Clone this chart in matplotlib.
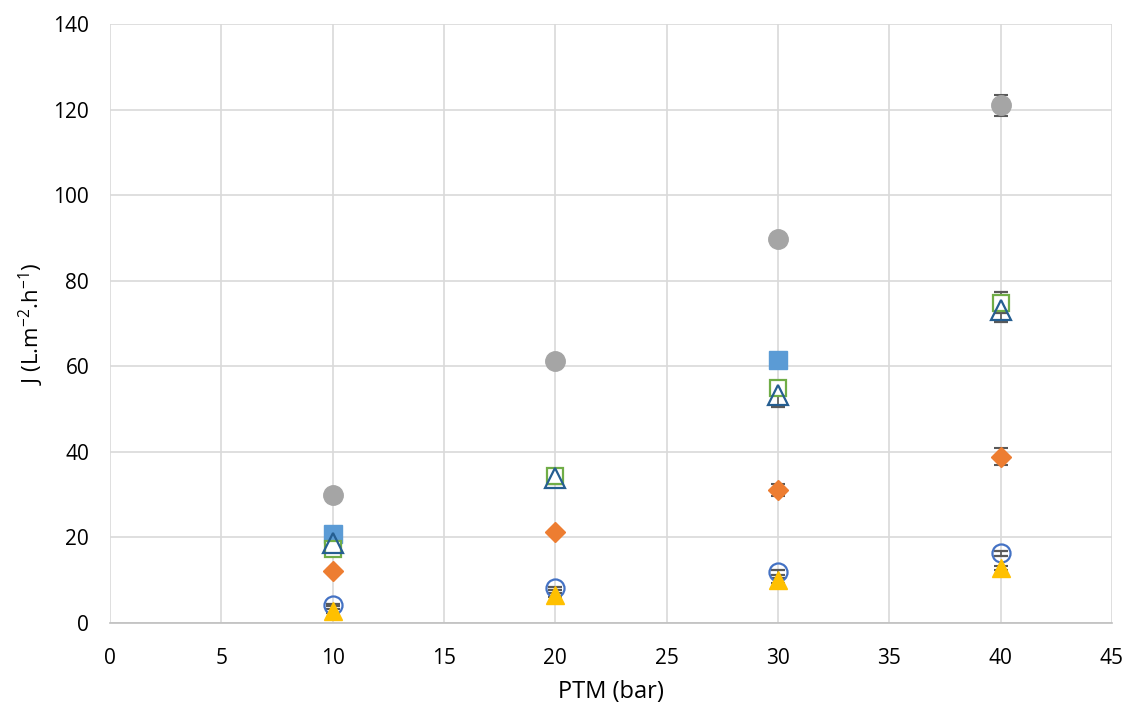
import numpy as np
import matplotlib.pyplot as plt

plt.rcParams['font.family'] = ['Open Sans', 'DejaVu Sans']
plt.rcParams['mathtext.default'] = 'regular'

ptm = [10, 20, 30, 40]

# valeurs
j_gris = [30.0, 61.2, 89.7, 121.0]
err_gris = [0.5, 0.6, 0.8, 2.4]
j_bleu_carre = [20.9, np.nan, 61.4, np.nan]
err_bleu_carre = [0.5, 0, 0.6, 0]
j_vert = [17.2, 34.3, 54.9, 74.9]
err_vert = [0.8, 1.0, 1.5, 2.5]
j_losange = [12.2, 21.3, 31.1, 38.9]
err_losange = [0.4, 0.5, 1.4, 2.0]
j_triangle = [18.8, 33.9, 53.2, 73.1]
err_triangle = [1.2, 1.5, 2.6, 2.8]
j_cercle = [4.2, 8.1, 11.9, 16.3]
err_cercle = [0.3, 0.3, 0.6, 0.6]
j_jaune = [2.8, 6.5, 10.0, 12.8]
err_jaune = [0.5, 0.5, 0.6, 0.5]

fig = plt.figure(figsize=(11.27, 7.07), dpi=100)
ax = fig.add_axes([110/1127, 1 - 623/707, 1002/1127, 599/707])

ecol = '#595959'
kw = dict(linestyle='none', ecolor=ecol, elinewidth=1.2, capsize=5, capthick=1.5)

ax.errorbar(ptm, j_gris, yerr=err_gris, marker='o', ms=14, mfc='#A5A5A5', mec='#A5A5A5', **kw)
ax.errorbar(ptm, j_bleu_carre, yerr=err_bleu_carre, marker='s', ms=13, mfc='#5B9BD5', mec='#5B9BD5', **kw)
ax.errorbar(ptm, j_vert, yerr=err_vert, marker='s', ms=12, mfc='white', mec='#70AD47', mew=1.6, **kw)
ax.errorbar(ptm, j_losange, yerr=err_losange, marker='D', ms=10, mfc='#ED7D31', mec='#ED7D31', **kw)
ax.errorbar(ptm, j_triangle, yerr=err_triangle, marker='^', ms=14, mfc='none', mec='#255E91', mew=1.6, **kw)
ax.errorbar(ptm, j_cercle, yerr=err_cercle, marker='o', ms=13, mfc='none', mec='#4472C4', mew=1.6, **kw)
ax.errorbar(ptm, j_jaune, yerr=err_jaune, marker='^', ms=13, mfc='#FFC000', mec='#FFC000', **kw)

ax.set_xlim(0, 45)
ax.set_ylim(0, 140)
ax.set_xticks(np.arange(0, 46, 5))
ax.set_yticks(np.arange(0, 141, 20))
ax.grid(True, color='#D9D9D9', linewidth=1.2)
ax.set_axisbelow(True)
for s in ['top', 'right', 'left']:
    ax.spines[s].set_visible(False)
ax.spines['bottom'].set_color('#BFBFBF')
ax.spines['bottom'].set_linewidth(1.2)
ax.tick_params(length=0, labelsize=15, colors='#000000')
ax.tick_params(axis='x', pad=18)
ax.tick_params(axis='y', pad=15)

ax.set_xlabel('PTM (bar)', fontsize=17, labelpad=8)
ax.set_ylabel('J (L.m$^{-2}$.h$^{-1}$)', fontsize=16, labelpad=5)

fig.savefig('out.png', dpi=100)
